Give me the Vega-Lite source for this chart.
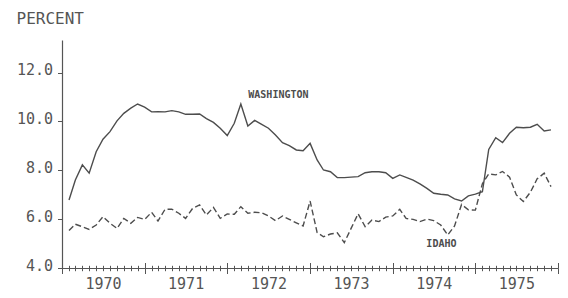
{
  "$schema": "https://vega.github.io/schema/vega-lite/v6.json",
  "width": 496,
  "height": 228,
  "autosize": "none",
  "padding": {"left": 62, "top": 40, "right": 10, "bottom": 30},
  "background": "white",
  "config": {"view": {"stroke": null}},
  "datasets": {
    "unemployment": [
      {"date":"1970-02-01","state":"Washington","rate":6.78},
      {"date":"1970-03-01","state":"Washington","rate":7.60},
      {"date":"1970-04-01","state":"Washington","rate":8.22},
      {"date":"1970-05-01","state":"Washington","rate":7.88},
      {"date":"1970-06-01","state":"Washington","rate":8.76},
      {"date":"1970-07-01","state":"Washington","rate":9.27},
      {"date":"1970-08-01","state":"Washington","rate":9.58},
      {"date":"1970-09-01","state":"Washington","rate":10.02},
      {"date":"1970-10-01","state":"Washington","rate":10.33},
      {"date":"1970-11-01","state":"Washington","rate":10.54},
      {"date":"1970-12-01","state":"Washington","rate":10.71},
      {"date":"1971-01-01","state":"Washington","rate":10.58},
      {"date":"1971-02-01","state":"Washington","rate":10.39},
      {"date":"1971-03-01","state":"Washington","rate":10.40},
      {"date":"1971-04-01","state":"Washington","rate":10.39},
      {"date":"1971-05-01","state":"Washington","rate":10.44},
      {"date":"1971-06-01","state":"Washington","rate":10.39},
      {"date":"1971-07-01","state":"Washington","rate":10.29},
      {"date":"1971-08-01","state":"Washington","rate":10.29},
      {"date":"1971-09-01","state":"Washington","rate":10.30},
      {"date":"1971-10-01","state":"Washington","rate":10.11},
      {"date":"1971-11-01","state":"Washington","rate":9.96},
      {"date":"1971-12-01","state":"Washington","rate":9.72},
      {"date":"1972-01-01","state":"Washington","rate":9.42},
      {"date":"1972-02-01","state":"Washington","rate":9.92},
      {"date":"1972-03-01","state":"Washington","rate":10.71},
      {"date":"1972-04-01","state":"Washington","rate":9.81},
      {"date":"1972-05-01","state":"Washington","rate":10.04},
      {"date":"1972-06-01","state":"Washington","rate":9.88},
      {"date":"1972-07-01","state":"Washington","rate":9.72},
      {"date":"1972-08-01","state":"Washington","rate":9.44},
      {"date":"1972-09-01","state":"Washington","rate":9.13},
      {"date":"1972-10-01","state":"Washington","rate":9.01},
      {"date":"1972-11-01","state":"Washington","rate":8.83},
      {"date":"1972-12-01","state":"Washington","rate":8.80},
      {"date":"1973-01-01","state":"Washington","rate":9.10},
      {"date":"1973-02-01","state":"Washington","rate":8.42},
      {"date":"1973-03-01","state":"Washington","rate":8.01},
      {"date":"1973-04-01","state":"Washington","rate":7.94},
      {"date":"1973-05-01","state":"Washington","rate":7.70},
      {"date":"1973-06-01","state":"Washington","rate":7.70},
      {"date":"1973-07-01","state":"Washington","rate":7.72},
      {"date":"1973-08-01","state":"Washington","rate":7.74},
      {"date":"1973-09-01","state":"Washington","rate":7.90},
      {"date":"1973-10-01","state":"Washington","rate":7.94},
      {"date":"1973-11-01","state":"Washington","rate":7.94},
      {"date":"1973-12-01","state":"Washington","rate":7.90},
      {"date":"1974-01-01","state":"Washington","rate":7.67},
      {"date":"1974-02-01","state":"Washington","rate":7.81},
      {"date":"1974-03-01","state":"Washington","rate":7.71},
      {"date":"1974-04-01","state":"Washington","rate":7.60},
      {"date":"1974-05-01","state":"Washington","rate":7.44},
      {"date":"1974-06-01","state":"Washington","rate":7.26},
      {"date":"1974-07-01","state":"Washington","rate":7.06},
      {"date":"1974-08-01","state":"Washington","rate":7.02},
      {"date":"1974-09-01","state":"Washington","rate":6.99},
      {"date":"1974-10-01","state":"Washington","rate":6.83},
      {"date":"1974-11-01","state":"Washington","rate":6.74},
      {"date":"1974-12-01","state":"Washington","rate":6.95},
      {"date":"1975-01-01","state":"Washington","rate":7.02},
      {"date":"1975-02-01","state":"Washington","rate":7.12},
      {"date":"1975-03-01","state":"Washington","rate":8.85},
      {"date":"1975-04-01","state":"Washington","rate":9.33},
      {"date":"1975-05-01","state":"Washington","rate":9.13},
      {"date":"1975-06-01","state":"Washington","rate":9.51},
      {"date":"1975-07-01","state":"Washington","rate":9.76},
      {"date":"1975-08-01","state":"Washington","rate":9.74},
      {"date":"1975-09-01","state":"Washington","rate":9.76},
      {"date":"1975-10-01","state":"Washington","rate":9.88},
      {"date":"1975-11-01","state":"Washington","rate":9.61},
      {"date":"1975-12-01","state":"Washington","rate":9.65},
      {"date":"1970-02-01","state":"Idaho","rate":5.53},
      {"date":"1970-03-01","state":"Idaho","rate":5.79},
      {"date":"1970-04-01","state":"Idaho","rate":5.69},
      {"date":"1970-05-01","state":"Idaho","rate":5.58},
      {"date":"1970-06-01","state":"Idaho","rate":5.76},
      {"date":"1970-07-01","state":"Idaho","rate":6.10},
      {"date":"1970-08-01","state":"Idaho","rate":5.83},
      {"date":"1970-09-01","state":"Idaho","rate":5.62},
      {"date":"1970-10-01","state":"Idaho","rate":6.03},
      {"date":"1970-11-01","state":"Idaho","rate":5.83},
      {"date":"1970-12-01","state":"Idaho","rate":6.07},
      {"date":"1971-01-01","state":"Idaho","rate":5.99},
      {"date":"1971-02-01","state":"Idaho","rate":6.28},
      {"date":"1971-03-01","state":"Idaho","rate":5.92},
      {"date":"1971-04-01","state":"Idaho","rate":6.40},
      {"date":"1971-05-01","state":"Idaho","rate":6.41},
      {"date":"1971-06-01","state":"Idaho","rate":6.24},
      {"date":"1971-07-01","state":"Idaho","rate":6.03},
      {"date":"1971-08-01","state":"Idaho","rate":6.44},
      {"date":"1971-09-01","state":"Idaho","rate":6.58},
      {"date":"1971-10-01","state":"Idaho","rate":6.17},
      {"date":"1971-11-01","state":"Idaho","rate":6.48},
      {"date":"1971-12-01","state":"Idaho","rate":6.03},
      {"date":"1972-01-01","state":"Idaho","rate":6.21},
      {"date":"1972-02-01","state":"Idaho","rate":6.20},
      {"date":"1972-03-01","state":"Idaho","rate":6.51},
      {"date":"1972-04-01","state":"Idaho","rate":6.24},
      {"date":"1972-05-01","state":"Idaho","rate":6.28},
      {"date":"1972-06-01","state":"Idaho","rate":6.26},
      {"date":"1972-07-01","state":"Idaho","rate":6.13},
      {"date":"1972-08-01","state":"Idaho","rate":5.94},
      {"date":"1972-09-01","state":"Idaho","rate":6.13},
      {"date":"1972-10-01","state":"Idaho","rate":5.99},
      {"date":"1972-11-01","state":"Idaho","rate":5.85},
      {"date":"1972-12-01","state":"Idaho","rate":5.72},
      {"date":"1973-01-01","state":"Idaho","rate":6.74},
      {"date":"1973-02-01","state":"Idaho","rate":5.45},
      {"date":"1973-03-01","state":"Idaho","rate":5.28},
      {"date":"1973-04-01","state":"Idaho","rate":5.39},
      {"date":"1973-05-01","state":"Idaho","rate":5.44},
      {"date":"1973-06-01","state":"Idaho","rate":5.04},
      {"date":"1973-07-01","state":"Idaho","rate":5.62},
      {"date":"1973-08-01","state":"Idaho","rate":6.22},
      {"date":"1973-09-01","state":"Idaho","rate":5.69},
      {"date":"1973-10-01","state":"Idaho","rate":5.96},
      {"date":"1973-11-01","state":"Idaho","rate":5.90},
      {"date":"1973-12-01","state":"Idaho","rate":6.08},
      {"date":"1974-01-01","state":"Idaho","rate":6.13},
      {"date":"1974-02-01","state":"Idaho","rate":6.40},
      {"date":"1974-03-01","state":"Idaho","rate":6.03},
      {"date":"1974-04-01","state":"Idaho","rate":5.99},
      {"date":"1974-05-01","state":"Idaho","rate":5.90},
      {"date":"1974-06-01","state":"Idaho","rate":6.00},
      {"date":"1974-07-01","state":"Idaho","rate":5.94},
      {"date":"1974-08-01","state":"Idaho","rate":5.76},
      {"date":"1974-09-01","state":"Idaho","rate":5.35},
      {"date":"1974-10-01","state":"Idaho","rate":5.72},
      {"date":"1974-11-01","state":"Idaho","rate":6.60},
      {"date":"1974-12-01","state":"Idaho","rate":6.38},
      {"date":"1975-01-01","state":"Idaho","rate":6.37},
      {"date":"1975-02-01","state":"Idaho","rate":7.45},
      {"date":"1975-03-01","state":"Idaho","rate":7.85},
      {"date":"1975-04-01","state":"Idaho","rate":7.81},
      {"date":"1975-05-01","state":"Idaho","rate":7.95},
      {"date":"1975-06-01","state":"Idaho","rate":7.72},
      {"date":"1975-07-01","state":"Idaho","rate":6.99},
      {"date":"1975-08-01","state":"Idaho","rate":6.72},
      {"date":"1975-09-01","state":"Idaho","rate":7.10},
      {"date":"1975-10-01","state":"Idaho","rate":7.65},
      {"date":"1975-11-01","state":"Idaho","rate":7.88},
      {"date":"1975-12-01","state":"Idaho","rate":7.33}
    ],
    "labels": [
      {"date":"1972-08-14","rate":11.06,"label":"WASHINGTON"},
      {"date":"1974-08-04","rate":4.99,"label":"IDAHO"}
    ]
  },
  "layer": [
    {
      "data": {"name": "unemployment"},
      "transform": [{"filter": "datum.state === 'Washington'"}],
      "mark": {"type": "line", "color": "#4d4d4d", "strokeWidth": 1.4},
      "encoding": {
        "x": {
          "field": "date", "type": "temporal",
          "scale": {"type": "utc", "domain": [{"year": 1970, "month": 1, "date": 1, "utc": true}, {"year": 1976, "month": 1, "date": 1, "utc": true}]},
          "axis": {
            "orient": "bottom", "title": null, "grid": false,
            "tickCount": {"interval": "month", "step": 1},
            "tickSize": {"condition": {"test": "utcmonth(datum.value) === 0", "value": 5.5}, "value": 2.7},
            "tickColor": "#555555", "tickWidth": 1,
            "domainColor": "#555555", "domainWidth": 1.2,
            "labelExpr": "utcmonth(datum.value) === 6 ? utcFormat(datum.value, '%Y') : ''",
            "labelOverlap": false, "labelFlush": false, "labelBound": false,
            "labelAngle": 0, "labelFont": "DejaVu Sans Mono", "labelFontSize": 15,
            "labelColor": "#555555", "labelPadding": 6
          }
        },
        "y": {
          "field": "rate", "type": "quantitative",
          "scale": {"domain": [4, 13.33], "nice": false, "zero": false},
          "axis": {
            "values": [4, 6, 8, 10, 12], "format": ".1f", "grid": false,
            "tickSize": 4.5, "tickColor": "#555555", "domainColor": "#555555", "domainWidth": 1.2,
            "labelFont": "DejaVu Sans Mono", "labelFontSize": 15, "labelColor": "#555555",
            "labelPadding": 5, "labelOffset": -3,
            "title": "PERCENT", "titleAngle": 0, "titleAlign": "left", "titleBaseline": "alphabetic",
            "titleX": -46, "titleY": -17, "titleFont": "DejaVu Sans Mono", "titleFontSize": 16,
            "titleFontWeight": "normal", "titleColor": "#555555"
          }
        }
      }
    },
    {
      "data": {"name": "unemployment"},
      "transform": [{"filter": "datum.state === 'Idaho'"}],
      "mark": {"type": "line", "color": "#4d4d4d", "strokeWidth": 1.4, "strokeDash": [6, 3]},
      "encoding": {
        "x": {
          "field": "date", "type": "temporal",
          "axis": {
            "orient": "bottom", "title": null, "grid": false, "domain": false, "labels": false,
            "tickCount": {"interval": "month", "step": 1},
            "tickSize": {"condition": {"test": "utcmonth(datum.value) === 0", "value": -5.5}, "value": -2.7},
            "tickColor": "#555555", "tickWidth": 1
          }
        },
        "y": {"field": "rate", "type": "quantitative"}
      }
    },
    {
      "data": {"name": "labels"},
      "mark": {"type": "text", "font": "DejaVu Sans Mono", "fontSize": 10, "fontWeight": "bold", "color": "#4d4d4d", "baseline": "middle", "align": "center"},
      "encoding": {
        "x": {"field": "date", "type": "temporal", "axis": null},
        "y": {"field": "rate", "type": "quantitative"},
        "text": {"field": "label"}
      }
    }
  ],
  "resolve": {"axis": {"x": "independent"}}
}
